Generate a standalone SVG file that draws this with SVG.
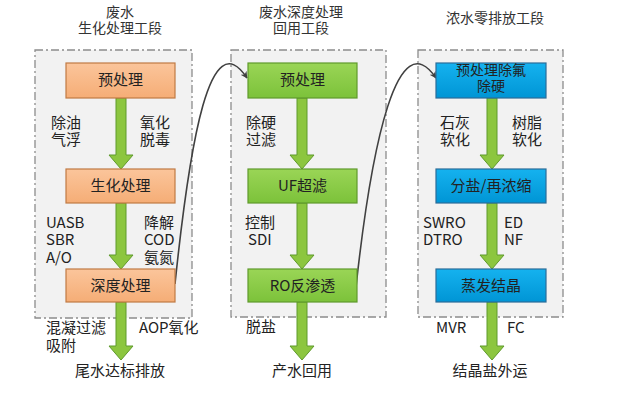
<svg xmlns="http://www.w3.org/2000/svg" width="620" height="395" viewBox="0 0 620 395">
<style>
text{font-family:"Noto Sans CJK SC","Noto Sans",sans-serif;font-size:15px;fill:#222}
.t{text-anchor:middle;fill:#333;font-size:14px}
.c{text-anchor:middle}
.s{font-size:14px}
.panel{fill:#f2f2f2;stroke:#8c8c8c;stroke-width:1.3;stroke-dasharray:8 3 2 3}
.or{fill:url(#gOr);stroke:#c07a44;stroke-width:1.2}
.gr{fill:url(#gGr);stroke:#5f9a2c;stroke-width:1.2}
.bl{fill:url(#gBl);stroke:#2a6d99;stroke-width:1.2}
.ar{fill:#8cc63f;stroke:#5f9a2c;stroke-width:1}
.cv{fill:none;stroke:#404040;stroke-width:1.6;marker-end:url(#mk)}
</style>
<defs>
<linearGradient id="gOr" x1="0" y1="0" x2="0" y2="1"><stop offset="0" stop-color="#fbc59b"/><stop offset="1" stop-color="#f5ad76"/></linearGradient>
<linearGradient id="gGr" x1="0" y1="0" x2="0" y2="1"><stop offset="0" stop-color="#9ad556"/><stop offset="1" stop-color="#7cc23a"/></linearGradient>
<linearGradient id="gBl" x1="0" y1="0" x2="0" y2="1"><stop offset="0" stop-color="#15b2ef"/><stop offset="1" stop-color="#0095d5"/></linearGradient>
<marker id="mk" viewBox="0 0 10 10" refX="9" refY="5" markerWidth="7" markerHeight="7" orient="auto" markerUnits="userSpaceOnUse"><path d="M0,0 L10,5 L0,10 L3,5 Z" fill="#404040"/></marker>
</defs>

<g id="titles">
<text class="t" x="120" y="16.5">废水</text>
<text class="t" x="120" y="32.5">生化处理工段</text>
<text class="t" x="301" y="16.5">废水深度处理</text>
<text class="t" x="301" y="32.5">回用工段</text>
<text class="t" x="495" y="23">浓水零排放工段</text>
</g>

<g id="panels">
<rect class="panel" x="35" y="50" width="157" height="268"/>
<rect class="panel" x="231" y="50" width="155" height="267"/>
<rect class="panel" x="418" y="50" width="145" height="267"/>
</g>

<g id="flow-arrows">
<polygon class="ar" points="116,98 126,98 126,155 133,155 121,169 109,155 116,155"/>
<polygon class="ar" points="116,203 126,203 126,255 133,255 121,269 109,255 116,255"/>
<polygon class="ar" points="116,302 126,302 126,346 133,346 121,360 109,346 116,346"/>
<polygon class="ar" points="297,98 307,98 307,155 314,155 302,169 290,155 297,155"/>
<polygon class="ar" points="297,203 307,203 307,255 314,255 302,269 290,255 297,255"/>
<polygon class="ar" points="297,302 307,302 307,346 314,346 302,360 290,346 297,346"/>
<polygon class="ar" points="487,98 497,98 497,155 504,155 492,169 480,155 487,155"/>
<polygon class="ar" points="487,203 497,203 497,255 504,255 492,269 480,255 487,255"/>
<polygon class="ar" points="487,302 497,302 497,346 504,346 492,360 480,346 487,346"/>
</g>

<g id="connectors">
<path class="cv" d="M175,284 C190,140 210,22 247,78"/>
<path class="cv" d="M356,287 C372,140 398,22 436,78"/>
</g>

<g id="n1-pre"><rect class="or" x="66" y="63" width="109" height="35"/><text class="c" x="120.5" y="85">预处理</text></g>
<g id="n1-bio"><rect class="or" x="66" y="169" width="109" height="34"/><text class="c" x="120.5" y="191">生化处理</text></g>
<g id="n1-deep"><rect class="or" x="66" y="269" width="109" height="33"/><text class="c" x="120.5" y="291">深度处理</text></g>

<g id="n2-pre"><rect class="gr" x="248" y="63" width="109" height="35"/><text class="c" x="302.5" y="85">预处理</text></g>
<g id="n2-uf"><rect class="gr" x="248" y="169" width="109" height="34"/><text class="c" x="302.5" y="191">UF超滤</text></g>
<g id="n2-ro"><rect class="gr" x="248" y="269" width="109" height="33"/><text class="c" x="302.5" y="291">RO反渗透</text></g>

<g id="n3-pre"><rect class="bl" x="436" y="63" width="110" height="35"/><text class="c s" x="491" y="75">预处理除氟</text><text class="c s" x="491" y="91">除硬</text></g>
<g id="n3-salt"><rect class="bl" x="436" y="169" width="110" height="34"/><text class="c" x="491" y="191">分盐/再浓缩</text></g>
<g id="n3-evap"><rect class="bl" x="436" y="269" width="110" height="33"/><text class="c" x="491" y="291">蒸发结晶</text></g>

<g id="labels">
<text x="51" y="128">除油</text><text x="51" y="145">气浮</text>
<text x="140" y="128">氧化</text><text x="140" y="145">脱毒</text>
<text x="46" y="228">UASB</text><text x="46" y="245">SBR</text><text x="46" y="263">A/O</text>
<text x="144" y="228">降解</text><text x="144" y="245">COD</text><text x="144" y="263">氨氮</text>
<text x="46" y="333">混凝过滤</text><text x="46" y="351">吸附</text>
<text x="139" y="333">AOP氧化</text>
<text class="c" x="120" y="376">尾水达标排放</text>

<text x="246" y="128">除硬</text><text x="246" y="145">过滤</text>
<text x="245" y="228">控制</text><text x="248" y="245">SDI</text>
<text x="246" y="332">脱盐</text>
<text class="c" x="302" y="376">产水回用</text>

<text x="440" y="128">石灰</text><text x="440" y="145">软化</text>
<text x="512" y="128">树脂</text><text x="512" y="145">软化</text>
<text x="423" y="228">SWRO</text><text x="423" y="245">DTRO</text>
<text x="504" y="228">ED</text><text x="504" y="245">NF</text>
<text x="436" y="333">MVR</text><text x="507" y="333">FC</text>
<text class="c" x="490" y="376">结晶盐外运</text>
</g>
</svg>
